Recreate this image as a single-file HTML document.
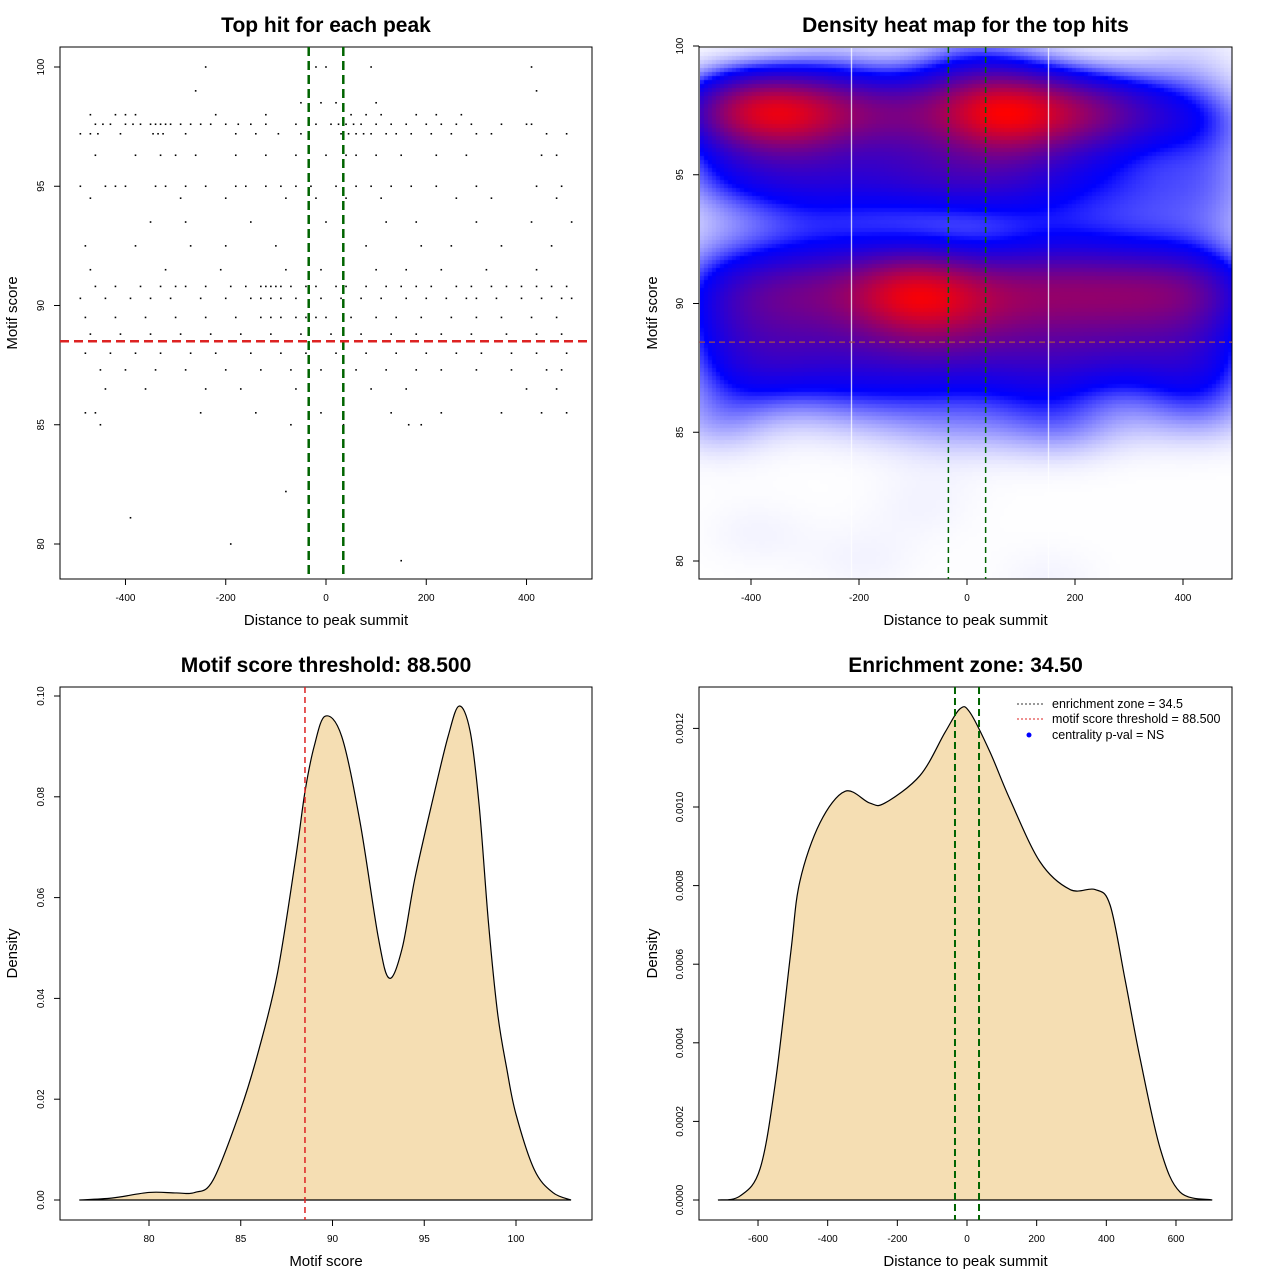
<!DOCTYPE html>
<html><head><meta charset="utf-8">
<style>
html,body{margin:0;padding:0;background:#fff;}
#wrap{position:relative;width:1280px;height:1280px;overflow:hidden;font-family:"Liberation Sans",Arial,sans-serif;}
#heat{position:absolute;left:700px;top:48px;}
#svg{position:absolute;left:0;top:0;}
</style></head>
<body>
<div id="wrap">
<canvas id="heat" width="532" height="531"></canvas>
<svg id="svg" width="1280" height="1280" xmlns="http://www.w3.org/2000/svg"></svg>
</div>
<script>
// ---------- data ----------
const hitScores = [100, 99, 98.5, 98, 97.6, 97.2, 96.3, 95, 94.5, 93.5, 92.5, 91.5, 90.8, 90.3, 89.5, 88.8, 88, 87.3, 86.5, 85.5, 85, 82.2, 81.1, 80, 79.3];
const hitXs = [
 [-240,-20,0,90,410],
 [-260,420],
 [100,-50,-10,20],
 [-470,-420,-400,-380,-220,-120,50,80,110,180,220,270],
 [-460,-445,-430,-400,-385,-370,-350,-340,-330,-320,-310,-290,-270,-250,-230,-200,-175,-150,-120,-60,-20,10,25,40,55,70,100,130,160,200,230,260,290,350,400,410],
 [-490,-470,-455,-410,-345,-335,-325,-280,-180,-140,-95,-50,30,45,60,75,90,120,140,170,210,250,300,330,440,480],
 [-460,-380,-330,-300,-260,-180,-120,-60,0,40,60,100,150,220,280,430,460],
 [-490,-440,-420,-400,-340,-320,-280,-240,-180,-160,-120,-90,-60,-30,20,60,90,130,170,220,300,420,470],
 [-470,-290,-200,-80,-20,40,110,260,330,460],
 [-350,-280,-150,0,120,180,300,410,490],
 [-480,-380,-270,-200,-100,80,190,250,350,450],
 [-470,-320,-210,-80,-10,100,160,230,320,420],
 [-460,-420,-370,-330,-300,-280,-240,-190,-160,-130,-120,-110,-100,-90,-70,-40,-20,20,40,80,120,150,180,210,260,290,330,360,390,420,450,480],
 [-490,-440,-390,-350,-310,-250,-200,-150,-130,-110,-90,-60,-10,30,70,110,160,200,240,280,300,340,390,430,470,490],
 [-480,-420,-360,-300,-240,-180,-130,-110,-90,-60,-40,-20,0,50,100,140,190,250,300,350,410,460],
 [-470,-410,-350,-290,-230,-170,-110,-50,10,70,130,180,230,290,360,420,470],
 [-480,-430,-380,-330,-270,-220,-150,-90,-40,20,80,140,200,260,310,370,420,480],
 [-450,-400,-340,-280,-200,-130,-70,-10,60,120,180,230,300,370,440,470],
 [-440,-360,-240,-170,-60,90,160,400,460],
 [-480,-460,-250,-140,-10,130,230,350,430,480],
 [-450,-70,35,165,190],
 [-80],[-390],[-190],[150]
];
const scoreGrid = [76.2,78,80,81.5,82.5,83.5,85,86,87,88,88.5,89,89.6,90.5,91.5,92.5,93.1,93.8,94.5,95.5,96.3,96.9,97.5,98,98.5,99,99.5,100,101,102,103];
const scoreDens = [0,0.0004,0.0015,0.0014,0.0015,0.004,0.018,0.03,0.045,0.068,0.081,0.09,0.096,0.092,0.075,0.052,0.044,0.05,0.064,0.08,0.092,0.098,0.093,0.078,0.055,0.037,0.026,0.017,0.006,0.0015,0];
const distGrid = [-715,-652,-594,-550,-506,-480,-422,-350,-279,-236,-135,-63,-20,9,66,123,210,296,368,411,454,497,555,612,704];
const distDens = [0,0.00001,0.00008,0.0003,0.00063,0.00081,0.00096,0.00104,0.00101,0.00101,0.00108,0.00119,0.00125,0.00124,0.00114,0.00102,0.00086,0.00079,0.00079,0.00075,0.00056,0.00036,0.00013,0.00002,0];
const scoreThreshold = 88.5;
const enrichZone = 34.5;
const xTicks1 = [-400,-200,0,200,400];
const yTicks1 = [80,85,90,95,100];
const xTicks3 = [80,85,90,95,100];
const yTicks3 = [0,0.02,0.04,0.06,0.08,0.10];
const yLabels3 = ["0.00","0.02","0.04","0.06","0.08","0.10"];
const xTicks4 = [-600,-400,-200,0,200,400,600];
const yTicks4 = [0,0.0002,0.0004,0.0006,0.0008,0.0010,0.0012];
const yLabels4 = ["0.0000","0.0002","0.0004","0.0006","0.0008","0.0010","0.0012"];

// ---------- scales ----------
const sx1=v=>326+v*0.5013, sy1=v=>544-(v-80)*23.85;
const sx2=v=>967+v*0.54,  sy2=v=>561-(v-80)*25.75;
const sx3=v=>149+(v-80)*18.35, sy3=v=>1200-v*5040;
const sx4=v=>967+v*0.3483, sy4=v=>1200-v*393000;

const svg=document.getElementById('svg');
const NS='http://www.w3.org/2000/svg';
function mk(tag,attrs,txt){const e=document.createElementNS(NS,tag);for(const k in attrs)e.setAttribute(k,attrs[k]);if(txt!==undefined)e.textContent=txt;svg.appendChild(e);return e;}

const pts=[];
hitScores.forEach((s,i)=>hitXs[i].forEach(x=>pts.push([x,s])));

// ---------- heatmap ----------
(function(){
 const c=document.getElementById('heat'),ctx=c.getContext('2d');
 const cs=4,bx=80,by=1.05;
 const W=Math.ceil(532/cs),H=Math.ceil(531/cs);
 const grid=[];let mx=0;
 for(let j=0;j<H;j++){grid.push([]);for(let i=0;i<W;i++){
  const x=(700+i*cs+cs/2-967)/0.54, y=80+(561-(48+j*cs+cs/2))/25.75;
  let d=0;for(const p of pts){const a=(x-p[0])/bx,b=(y-p[1])/by;d+=Math.exp(-0.5*(a*a+b*b));}
  grid[j].push(d);if(d>mx)mx=d;}}
 for(let j=0;j<H;j++)for(let i=0;i<W;i++){
  const t=grid[j][i]/mx;let r,g,b;
  if(t<0.32){const u=Math.pow(t/0.32,1.6);r=255*(1-u);g=255*(1-u);b=255;}
  else{const u=Math.min(1,(t-0.32)/0.68);r=255*u;g=0;b=255*(1-u);}
  ctx.fillStyle=`rgb(${r|0},${g|0},${b|0})`;ctx.fillRect(i*cs,j*cs,cs,cs);}
 ctx.fillStyle='#fff';ctx.fillRect(151,0,1,531);ctx.fillRect(348,0,1,531);
})();

// ---------- generic axes ----------
function axes(box,xt,xl,sx,yt,yl,sy,title,xlab,ylab,ylx){
 let e;
 e=mk('rect',{x:box[0],y:box[1],width:box[2]-box[0],height:box[3]-box[1],fill:'none',stroke:'#000','stroke-width':1});
 
 
 e=mk('line',{x1:sx(xt[0]),x2:sx(xt[xt.length-1]),y1:box[3],y2:box[3],stroke:'#000'});
 
 
 xt.forEach((v,i)=>{
  e=mk('line',{x1:sx(v),x2:sx(v),y1:box[3],y2:box[3]+6,stroke:'#000'});
  
  
  e=mk('text',{x:sx(v),y:box[3]+22,'font-size':10,'text-anchor':'middle'},xl[i]);
  
  
 });
 e=mk('line',{x1:box[0],x2:box[0],y1:sy(yt[0]),y2:sy(yt[yt.length-1]),stroke:'#000'});
 
 
 yt.forEach((v,i)=>{
  e=mk('line',{x1:box[0]-6,x2:box[0],y1:sy(v),y2:sy(v),stroke:'#000'});
  
  
  e=mk('text',{x:0,y:0,'font-size':10,'text-anchor':'middle',transform:`translate(${box[0]-16},${sy(v)}) rotate(-90)`},yl[i]);
  
  
 });
 e=mk('text',{x:(box[0]+box[2])/2,y:box[1]-15,'font-size':21,'font-weight':'bold','text-anchor':'middle'},title);
 
 
 e=mk('text',{x:(box[0]+box[2])/2,y:box[3]+46,'font-size':15,'text-anchor':'middle'},xlab);
 
 
 e=mk('text',{x:0,y:0,'font-size':15,'text-anchor':'middle',transform:`translate(${ylx},${(box[1]+box[3])/2}) rotate(-90)`},ylab);
 
 
}
function vline(x,y1,y2,col,w,dash,name){const e=mk('line',{x1:x,x2:x,y1:y1,y2:y2,stroke:col,'stroke-width':w,'stroke-dasharray':dash});}
function hline(y,x1,x2,col,w,dash,name){const e=mk('line',{x1:x1,x2:x2,y1:y,y2:y,stroke:col,'stroke-width':w,'stroke-dasharray':dash});}
function smooth(xs,ys,sx,sy){
 const P=xs.map((x,i)=>[sx(x),sy(ys[i])]);let d=`M${P[0][0]},${P[0][1]}`;
 for(let i=0;i<P.length-1;i++){const p0=P[Math.max(0,i-1)],p1=P[i],p2=P[i+1],p3=P[Math.min(P.length-1,i+2)];
  d+=` C${p1[0]+(p2[0]-p0[0])/6},${p1[1]+(p2[1]-p0[1])/6} ${p2[0]-(p3[0]-p1[0])/6},${p2[1]-(p3[1]-p1[1])/6} ${p2[0]},${p2[1]}`;}
 return d;}

// ---------- panel 1 ----------
axes([60,47,592,579],xTicks1,xTicks1.map(String),sx1,yTicks1,yTicks1.map(String),sy1,'Top hit for each peak','Distance to peak summit','Motif score',17);
pts.forEach(p=>{
 const e=mk('rect',{x:sx1(p[0])-0.8,y:sy1(p[1])-0.8,width:1.6,height:1.6,fill:'#000'});
 
 
});
vline(sx1(-enrichZone),47,579,'#006400',2.5,'9,5','enrichment-zone-left');
vline(sx1(enrichZone),47,579,'#006400',2.5,'9,5','enrichment-zone-right');
hline(sy1(scoreThreshold),60,592,'#dd2222',2.5,'9,5','score-threshold-line');

// ---------- panel 2 ----------
axes([699,47,1232,579],xTicks1,xTicks1.map(String),sx2,yTicks1,yTicks1.map(String),sy2,'Density heat map for the top hits','Distance to peak summit','Motif score',657);
vline(sx2(-enrichZone),47,579,'#006400',1.5,'6,4','enrichment-zone-left');
vline(sx2(enrichZone),47,579,'#006400',1.5,'6,4','enrichment-zone-right');
hline(sy2(scoreThreshold),699,1232,'#a0504a',1.2,'6,4','score-threshold-line');

// ---------- panel 3 ----------
axes([60,687,592,1220],xTicks3,xTicks3.map(String),sx3,yTicks3,yLabels3,sy3,'Motif score threshold: 88.500','Motif score','Density',17);
let e=mk('path',{d:smooth(scoreGrid,scoreDens,sx3,sy3)+'Z',fill:'#f5deb3',stroke:'#000','stroke-width':1.2});


vline(sx3(scoreThreshold),687,1220,'#dd2222',1.5,'6,4','score-threshold-line');

// ---------- panel 4 ----------
axes([699,687,1232,1220],xTicks4,xTicks4.map(String),sx4,yTicks4,yLabels4,sy4,'Enrichment zone: 34.50','Distance to peak summit','Density',657);
e=mk('path',{d:smooth(distGrid,distDens,sx4,sy4)+'Z',fill:'#f5deb3',stroke:'#000','stroke-width':1.2});


vline(sx4(-enrichZone),687,1220,'#006400',2,'7,4','enrichment-zone-left');
vline(sx4(enrichZone),687,1220,'#006400',2,'7,4','enrichment-zone-right');
hline(704,1017,1043,'#333',1,'2,2','legend-enrichment-line');
e=mk('text',{x:1052,y:708,'font-size':12.5},'enrichment zone = 34.5');


hline(719,1017,1043,'#dd2222',1,'2,2','legend-threshold-line');
e=mk('text',{x:1052,y:723,'font-size':12.5},'motif score threshold = 88.500');


e=mk('circle',{cx:1029,cy:735,r:2.5,fill:'#0000ff'});


e=mk('text',{x:1052,y:739,'font-size':12.5},'centrality p-val = NS');


</script>
</body></html>
